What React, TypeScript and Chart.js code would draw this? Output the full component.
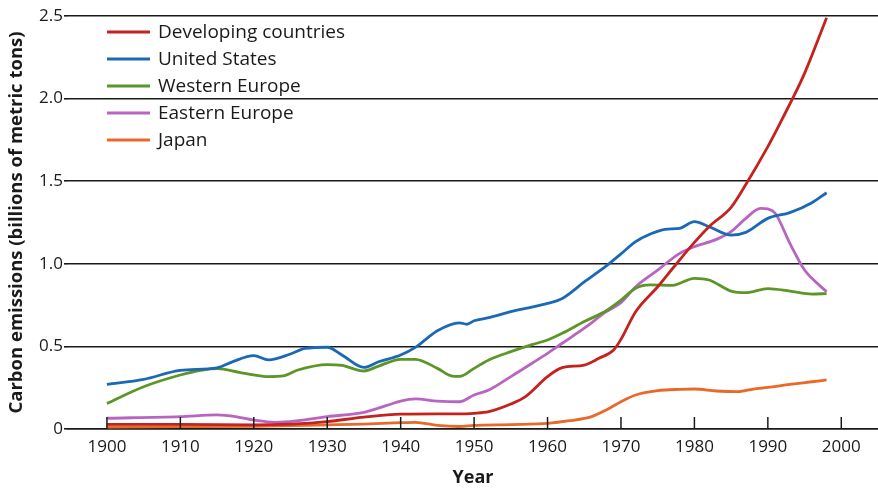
import React, { useEffect, useRef } from 'react';
import { Chart, registerables } from 'chart.js';

Chart.register(...registerables);

// ---- Data (billions of metric tons of carbon) ----
const xTickYears = [1900, 1910, 1920, 1930, 1940, 1950, 1960, 1970, 1980, 1990, 2000];
const yTickValues = [0, 0.5, 1.0, 1.5, 2.0, 2.5];

const seriesLabels = ['Developing countries', 'United States', 'Western Europe', 'Eastern Europe', 'Japan'];
const seriesColors = ['#c3231c', '#1a68b6', '#5b9626', '#b865c2', '#e8692a'];

const dcYears = [1900, 1910, 1920, 1925, 1930, 1935, 1940, 1945, 1948, 1950, 1952, 1955, 1957, 1960, 1962, 1965, 1967, 1969, 1970, 1972, 1975, 1977, 1980, 1982, 1985, 1987, 1990, 1992, 1995, 1998];
const dcValues = [0.028, 0.028, 0.025, 0.03, 0.045, 0.072, 0.09, 0.092, 0.091, 0.095, 0.105, 0.151, 0.196, 0.317, 0.371, 0.387, 0.428, 0.478, 0.543, 0.71, 0.861, 0.97, 1.13, 1.225, 1.342, 1.48, 1.709, 1.88, 2.153, 2.49];

const usYears = [1900, 1905, 1910, 1915, 1917, 1920, 1922, 1925, 1927, 1930, 1932, 1935, 1937, 1940, 1942, 1945, 1948, 1949, 1950, 1952, 1955, 1957, 1960, 1962, 1965, 1968, 1970, 1972, 1974, 1976, 1978, 1980, 1982, 1985, 1987, 1990, 1993, 1996, 1998];
const usValues = [0.27, 0.3, 0.355, 0.37, 0.405, 0.444, 0.418, 0.454, 0.488, 0.495, 0.448, 0.373, 0.407, 0.448, 0.494, 0.595, 0.643, 0.634, 0.655, 0.674, 0.71, 0.73, 0.76, 0.79, 0.89, 0.987, 1.06, 1.134, 1.18, 1.209, 1.215, 1.255, 1.225, 1.174, 1.19, 1.275, 1.31, 1.37, 1.43];

const weYears = [1900, 1905, 1910, 1913, 1915, 1918, 1920, 1922, 1924, 1926, 1930, 1932, 1935, 1937, 1940, 1942, 1945, 1947, 1948, 1950, 1952, 1955, 1958, 1960, 1962, 1965, 1968, 1970, 1972, 1974, 1977, 1980, 1982, 1985, 1987, 1990, 1993, 1996, 1998];
const weValues = [0.155, 0.256, 0.327, 0.357, 0.365, 0.343, 0.327, 0.317, 0.321, 0.357, 0.39, 0.385, 0.351, 0.381, 0.422, 0.422, 0.367, 0.32, 0.318, 0.367, 0.418, 0.468, 0.512, 0.539, 0.579, 0.65, 0.716, 0.78, 0.852, 0.872, 0.87, 0.912, 0.902, 0.835, 0.825, 0.85, 0.835, 0.817, 0.82];

const eeYears = [1900, 1910, 1915, 1918, 1920, 1923, 1926, 1930, 1935, 1938, 1940, 1942, 1945, 1948, 1950, 1952, 1955, 1958, 1960, 1962, 1965, 1968, 1970, 1972, 1975, 1978, 1980, 1983, 1985, 1987, 1989, 1990, 1991, 1993, 1995, 1996, 1998];
const eeValues = [0.065, 0.075, 0.085, 0.071, 0.054, 0.04, 0.05, 0.075, 0.101, 0.141, 0.169, 0.182, 0.169, 0.165, 0.206, 0.236, 0.317, 0.401, 0.458, 0.519, 0.61, 0.71, 0.765, 0.861, 0.962, 1.063, 1.104, 1.148, 1.195, 1.275, 1.336, 1.332, 1.306, 1.124, 0.962, 0.912, 0.831];

const jpYears = [1900, 1910, 1920, 1930, 1935, 1940, 1942, 1945, 1948, 1950, 1955, 1960, 1963, 1966, 1968, 1970, 1972, 1975, 1978, 1980, 1983, 1986, 1988, 1990, 1993, 1996, 1998];
const jpValues = [0.012, 0.014, 0.016, 0.025, 0.03, 0.038, 0.04, 0.022, 0.015, 0.022, 0.027, 0.034, 0.05, 0.075, 0.115, 0.165, 0.206, 0.232, 0.24, 0.242, 0.23, 0.226, 0.242, 0.252, 0.27, 0.286, 0.297];

const seriesYears = [dcYears, usYears, weYears, eeYears, jpYears];
const seriesValues = [dcValues, usValues, weValues, eeValues, jpValues];

const FONT = '"Open Sans", "DejaVu Sans", sans-serif';
const INK = '#1a1a1a';

const insideLegend = {
  id: 'insideLegend',
  afterDatasetsDraw(chart: any) {
    const { ctx, chartArea } = chart;
    ctx.save();
    chart.data.datasets.forEach((ds: any, i: number) => {
      const y = chartArea.top + 16 + i * 27;
      ctx.strokeStyle = ds.borderColor;
      ctx.lineWidth = 3;
      ctx.beginPath();
      ctx.moveTo(chartArea.left + 39, y);
      ctx.lineTo(chartArea.left + 82, y);
      ctx.stroke();
      ctx.fillStyle = INK;
      ctx.font = `19px ${FONT}`;
      ctx.textBaseline = 'middle';
      ctx.textAlign = 'left';
      ctx.fillText(ds.label, chartArea.left + 90, y + 1);
    });
    ctx.restore();
  },
};

const innerTicks = {
  id: 'innerTicks',
  afterDatasetsDraw(chart: any) {
    const { ctx, chartArea } = chart;
    const xs = chart.scales.x;
    ctx.save();
    ctx.strokeStyle = INK;
    ctx.lineWidth = 1.5;
    xTickYears.forEach((yr) => {
      const px = xs.getPixelForValue(yr);
      ctx.beginPath();
      ctx.moveTo(px, chartArea.bottom);
      ctx.lineTo(px, chartArea.bottom - 12);
      ctx.stroke();
    });
    ctx.restore();
  },
};

export default function App() {
  const ref = useRef<HTMLCanvasElement | null>(null);

  useEffect(() => {
    if (!ref.current) return;
    const datasets = seriesLabels.map((label, i) => ({
      label,
      data: seriesYears[i].map((yr, j) => ({ x: yr, y: seriesValues[i][j] })),
      borderColor: seriesColors[i],
      backgroundColor: seriesColors[i],
      borderWidth: 2.8,
      pointRadius: 0,
      tension: 0.4,
      cubicInterpolationMode: 'monotone' as const,
      fill: false,
    }));

    const chart = new Chart(ref.current, {
      type: 'line',
      data: { datasets },
      plugins: [insideLegend, innerTicks],
      options: {
        animation: false,
        responsive: false,
        devicePixelRatio: 1,
        layout: { padding: { top: 16, right: 0, left: 0, bottom: 0 } },
        plugins: { legend: { display: false }, tooltip: { enabled: false } },
        scales: {
          x: {
            type: 'linear',
            min: 1894.7,
            max: 2005,
            afterBuildTicks: (s: any) => { s.ticks = xTickYears.map((v) => ({ value: v })); },
            afterFit: (s: any) => { s.height = 61; },
            grid: { display: false, drawTicks: false },
            border: { display: true, color: INK, width: 1.6 },
            ticks: {
              color: INK,
              font: { family: FONT, size: 17 },
              padding: 8,
              maxRotation: 0,
              autoSkip: false,
              callback: (v: any) => String(v),
            },
            title: {
              display: true,
              text: 'Year',
              color: INK,
              font: { family: FONT, size: 18, weight: 'bold' },
              padding: { top: 0, bottom: 1 },
            },
          },
          y: {
            type: 'linear',
            min: 0,
            max: 2.5,
            afterBuildTicks: (s: any) => { s.ticks = yTickValues.map((v) => ({ value: v })); },
            afterFit: (s: any) => { s.width = 68; },
            grid: { color: INK, lineWidth: 1.6, tickLength: 4, drawTicks: true },
            border: { display: false },
            ticks: {
              color: INK,
              font: { family: FONT, size: 17 },
              padding: 1,
              callback: (v: any) => (v === 0 ? '0' : Number(v).toFixed(1)),
            },
            title: {
              display: true,
              text: 'Carbon emissions (billions of metric tons)',
              color: INK,
              font: { family: FONT, size: 18.5, weight: 'bold' },
              padding: { top: 6, bottom: 0 },
            },
          },
        },
      },
    });
    return () => chart.destroy();
  }, []);

  return (
    <div style={{ position: 'fixed', left: 0, top: 0, width: 878, height: 490, background: '#ffffff' }}>
      <canvas ref={ref} width={878} height={490} style={{ width: 878, height: 490, display: 'block' }} />
    </div>
  );
}
